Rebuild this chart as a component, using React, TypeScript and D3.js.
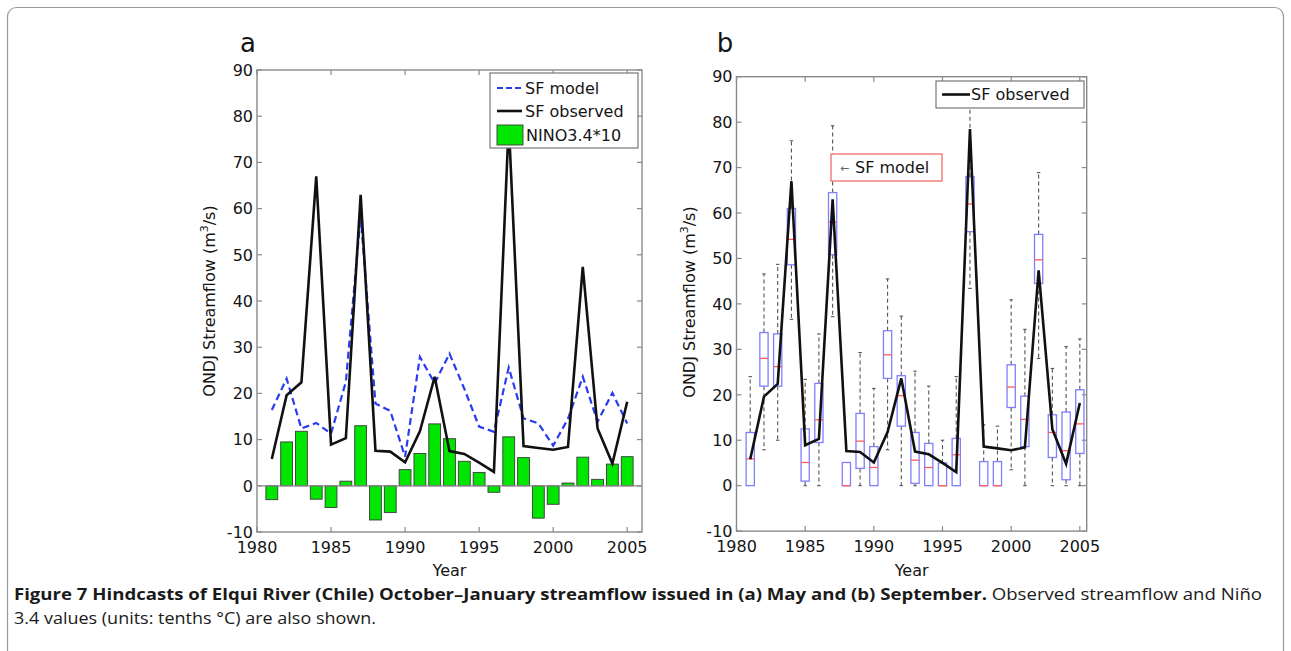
import React from "react";
import * as d3 from "d3";

// ---------- data ----------
const years = [1981, 1982, 1983, 1984, 1985, 1986, 1987, 1988, 1989, 1990, 1991, 1992, 1993, 1994, 1995, 1996, 1997, 1998, 1999, 2000, 2001, 2002, 2003, 2004, 2005];
const sfObserved = [5.8, 19.6, 22.4, 67.0, 8.9, 10.3, 63.0, 7.6, 7.4, 5.1, 11.8, 23.6, 7.5, 6.9, 5.0, 3.0, 78.5, 8.6, 8.2, 7.8, 8.4, 47.4, 12.4, 4.8, 18.2];
const sfModel = [16.4, 23.2, 12.4, 13.6, 11.3, 22.5, 58.5, 17.8, 16.2, 6.3, 27.9, 22.2, 28.6, 21.0, 12.8, 11.7, 25.6, 14.6, 13.5, 8.7, 14.5, 23.6, 13.9, 20.1, 13.5];
const nino10 = [-3.0, 9.5, 11.8, -2.9, -4.7, 1.0, 13.0, -7.4, -5.8, 3.5, 7.0, 13.4, 10.2, 5.3, 2.9, -1.4, 10.6, 6.1, -7.0, -4.0, 0.6, 6.2, 1.4, 4.7, 6.3];

// panel b box plot statistics (SF model ensemble)
const boxQ1 = [0, 21.9, 21.9, 48.6, 1.0, 9.5, 50.8, 0, 3.8, 0, 23.6, 13.1, 0.5, 0, 0, 0, 55.9, 0, 0, 17.2, 8.6, 44.5, 6.2, 1.3, 7.1];
const boxMed = [5.9, 28.0, 26.2, 54.2, 5.1, 14.5, 58.0, 0, 9.8, 4.0, 28.8, 19.8, 5.6, 4.0, 0, 6.8, 62.0, 0, 0, 21.7, 14.6, 49.7, 11.7, 7.7, 13.6];
const boxQ3 = [11.7, 33.7, 33.4, 61.0, 12.5, 22.5, 64.5, 5.1, 15.9, 8.6, 34.1, 24.2, 11.7, 9.3, 5.0, 10.4, 68.0, 5.3, 5.3, 26.6, 19.7, 55.3, 15.6, 16.2, 21.1];
const whiskLo = [0, 7.9, 10.0, 36.6, 0, 0, 37.2, 0, 0, 0, 7.9, 0, 0, 0, 0, 0, 43.4, 0, 0, 3.5, 0, 28.0, 0, 0, 0];
const whiskHi = [24.0, 46.6, 48.7, 75.9, 23.4, 33.4, 79.2, 5.1, 29.3, 21.4, 45.5, 37.3, 25.2, 21.9, 10.0, 24.0, 86.0, 13.4, 13.1, 40.9, 34.4, 68.9, 25.8, 30.6, 32.3];

const xTicks = [1980, 1985, 1990, 1995, 2000, 2005];
const yTicks = [-10, 0, 10, 20, 30, 40, 50, 60, 70, 80, 90];

const FONT = "'DejaVu Sans', 'Liberation Sans', Arial, sans-serif";
const TXT = "#151515";
const AXC = "#8a8a8a";

type Frame = { x: d3.ScaleLinear<number, number>; y: d3.ScaleLinear<number, number> };

function AxesBox({ x, y, id }: Frame & { id: string }) {
  const [x0, x1] = x.range();
  const [y0, y1] = y.range(); // y0 bottom, y1 top
  const tl = 5;
  return (
    <g>
      {xTicks.map((t) => (
        <g key={id + "x" + t}>
          <line x1={x(t)} x2={x(t)} y1={y0} y2={y0 - tl} stroke={AXC} strokeWidth={1.2} />
          <line x1={x(t)} x2={x(t)} y1={y1} y2={y1 + tl} stroke={AXC} strokeWidth={1.2} />
          <text x={x(t)} y={y0 + 21} textAnchor="middle" fontSize={16} fontFamily={FONT} fill={TXT}>
            {t}
          </text>
        </g>
      ))}
      {yTicks.map((t) => (
        <g key={id + "y" + t}>
          <line x1={x0} x2={x0 + tl} y1={y(t)} y2={y(t)} stroke={AXC} strokeWidth={1.2} />
          <line x1={x1} x2={x1 - tl} y1={y(t)} y2={y(t)} stroke={AXC} strokeWidth={1.2} />
          <text x={x0 - 4} y={y(t)} dy="0.36em" textAnchor="end" fontSize={16} fontFamily={FONT} fill={TXT}>
            {t}
          </text>
        </g>
      ))}
      <rect x={x0} y={y1} width={x1 - x0} height={y0 - y1} fill="none" stroke={AXC} strokeWidth={1.4} />
    </g>
  );
}

function YLabel({ cx, cy }: { cx: number; cy: number }) {
  return (
    <text transform={`translate(${cx},${cy}) rotate(-90)`} textAnchor="middle" fontSize={16} fontFamily={FONT} fill={TXT}>
      ONDJ Streamflow (m
      <tspan fontSize={11} dy={-7}>3</tspan>
      <tspan dy={7}>/s)</tspan>
    </text>
  );
}

function PanelA() {
  const x = d3.scaleLinear().domain([1980, 2006]).range([257, 642]);
  const y = d3.scaleLinear().domain([-10, 90]).range([532, 70]);
  const bw = (x(1) - x(0)) * 0.8;
  const line = d3
    .line<number>()
    .x((_, i) => x(years[i]))
    .y((d) => y(d));
  return (
    <g>
      <text x={248} y={52} textAnchor="middle" fontSize={26} fontFamily={FONT} fill={TXT}>a</text>
      {nino10.map((v, i) => (
        <rect
          key={"bar" + i}
          x={x(years[i]) - bw / 2}
          y={y(Math.max(0, v))}
          width={bw}
          height={Math.abs(y(v) - y(0))}
          fill="#00e600"
          stroke="#3a3a3a"
          strokeWidth={0.9}
        />
      ))}
      <line x1={x(1980)} x2={x(2006)} y1={y(0)} y2={y(0)} stroke="#8a8a8a" strokeWidth={1.2} />
      <path d={line(sfModel) || ""} fill="none" stroke="#2a3cf0" strokeWidth={2.2} strokeDasharray="7,4" />
      <path d={line(sfObserved) || ""} fill="none" stroke="#111" strokeWidth={2.6} strokeLinejoin="miter" />
      <AxesBox x={x} y={y} id="a" />
      {/* legend */}
      <g fontFamily={FONT} fontSize={16} fill={TXT}>
        <rect x={490} y={73} width={148} height={75} fill="#fff" stroke="#777" strokeWidth={1.2} />
        <line x1={497} x2={522} y1={88} y2={88} stroke="#2a3cf0" strokeWidth={2.2} strokeDasharray="6,3" />
        <text x={525} y={94}>SF model</text>
        <line x1={497} x2={522} y1={111} y2={111} stroke="#111" strokeWidth={2.6} />
        <text x={525} y={117}>SF observed</text>
        <rect x={497} y={125} width={26} height={20} fill="#00e600" stroke="#3a3a3a" strokeWidth={0.9} />
        <text x={526} y={141}>NINO3.4*10</text>
      </g>
      <YLabel cx={215} cy={301} />
      <text x={(257 + 642) / 2} y={576} textAnchor="middle" fontSize={16} fontFamily={FONT} fill={TXT}>Year</text>
    </g>
  );
}

function PanelB() {
  const x = d3.scaleLinear().domain([1980, 2005.5]).range([736.5, 1086.7]);
  const y = d3.scaleLinear().domain([-10, 90]).range([531.1, 76.7]);
  const bw = (x(1) - x(0)) * 0.6;
  const cw = (x(1) - x(0)) * 0.25;
  const line = d3
    .line<number>()
    .x((_, i) => x(years[i]))
    .y((d) => y(d));
  return (
    <g>
      <text x={725} y={52} textAnchor="middle" fontSize={26} fontFamily={FONT} fill={TXT}>b</text>
      {years.map((yr, i) => {
        const cx = x(yr);
        return (
          <g key={"box" + i}>
            {whiskHi[i] > boxQ3[i] && (
              <g>
                <line x1={cx} x2={cx} y1={y(boxQ3[i])} y2={y(whiskHi[i])} stroke="#555" strokeWidth={1.1} strokeDasharray="4,3" />
                <line x1={cx - cw / 2} x2={cx + cw / 2} y1={y(whiskHi[i])} y2={y(whiskHi[i])} stroke="#555" strokeWidth={1.1} />
              </g>
            )}
            {whiskLo[i] < boxQ1[i] && (
              <g>
                <line x1={cx} x2={cx} y1={y(boxQ1[i])} y2={y(whiskLo[i])} stroke="#555" strokeWidth={1.1} strokeDasharray="4,3" />
                <line x1={cx - cw / 2} x2={cx + cw / 2} y1={y(whiskLo[i])} y2={y(whiskLo[i])} stroke="#555" strokeWidth={1.1} />
              </g>
            )}
            <rect x={cx - bw / 2} y={y(boxQ3[i])} width={bw} height={y(boxQ1[i]) - y(boxQ3[i])} fill="none" stroke="#7f7fff" strokeWidth={1.3} />
            <line x1={cx - bw / 2} x2={cx + bw / 2} y1={y(boxMed[i])} y2={y(boxMed[i])} stroke="#ff5a5a" strokeWidth={1.3} />
          </g>
        );
      })}
      <path d={line(sfObserved) || ""} fill="none" stroke="#111" strokeWidth={2.6} />
      <AxesBox x={x} y={y} id="b" />
      <g fontFamily={FONT} fontSize={16} fill={TXT}>
        <rect x={936} y={81} width={148} height={27} fill="#fff" stroke="#777" strokeWidth={1.2} />
        <line x1={942} x2={970} y1={94.5} y2={94.5} stroke="#111" strokeWidth={2.6} />
        <text x={971} y={100}>SF observed</text>
        <rect x={831} y={154} width={111} height={27} fill="#fff" stroke="#f06060" strokeWidth={1.2} />
        <text x={840} y={172} fontSize={11} fill="#666">←</text>
        <text x={855} y={173}>SF model</text>
      </g>
      <YLabel cx={695} cy={302} />
      <text x={(736.5 + 1086.7) / 2} y={576} textAnchor="middle" fontSize={16} fontFamily={FONT} fill={TXT}>Year</text>
    </g>
  );
}

export default function App() {
  return (
    <svg width={1291} height={651} style={{ position: "absolute", left: 0, top: 0, background: "#fff" }}>
      <rect x={0} y={0} width={1291} height={651} fill="#fff" />
      <rect x={7.5} y={7.5} width={1276} height={670} rx={9} fill="none" stroke="#9a9a9a" strokeWidth={1.2} />
      <PanelA />
      <PanelB />
      <g fontFamily="'Open Sans', 'Noto Sans', sans-serif" fontSize={16} fill="#1a1a1a">
        <text x={14} y={600} textLength={1248} lengthAdjust="spacingAndGlyphs">
          <tspan fontWeight={700}>Figure 7 Hindcasts of Elqui River (Chile) October–January streamflow issued in (a) May and (b) September.</tspan>
          <tspan> Observed streamflow and Niño</tspan>
        </text>
        <text x={14} y={624} textLength={362} lengthAdjust="spacingAndGlyphs">3.4 values (units: tenths °C) are also shown.</text>
      </g>
    </svg>
  );
}
